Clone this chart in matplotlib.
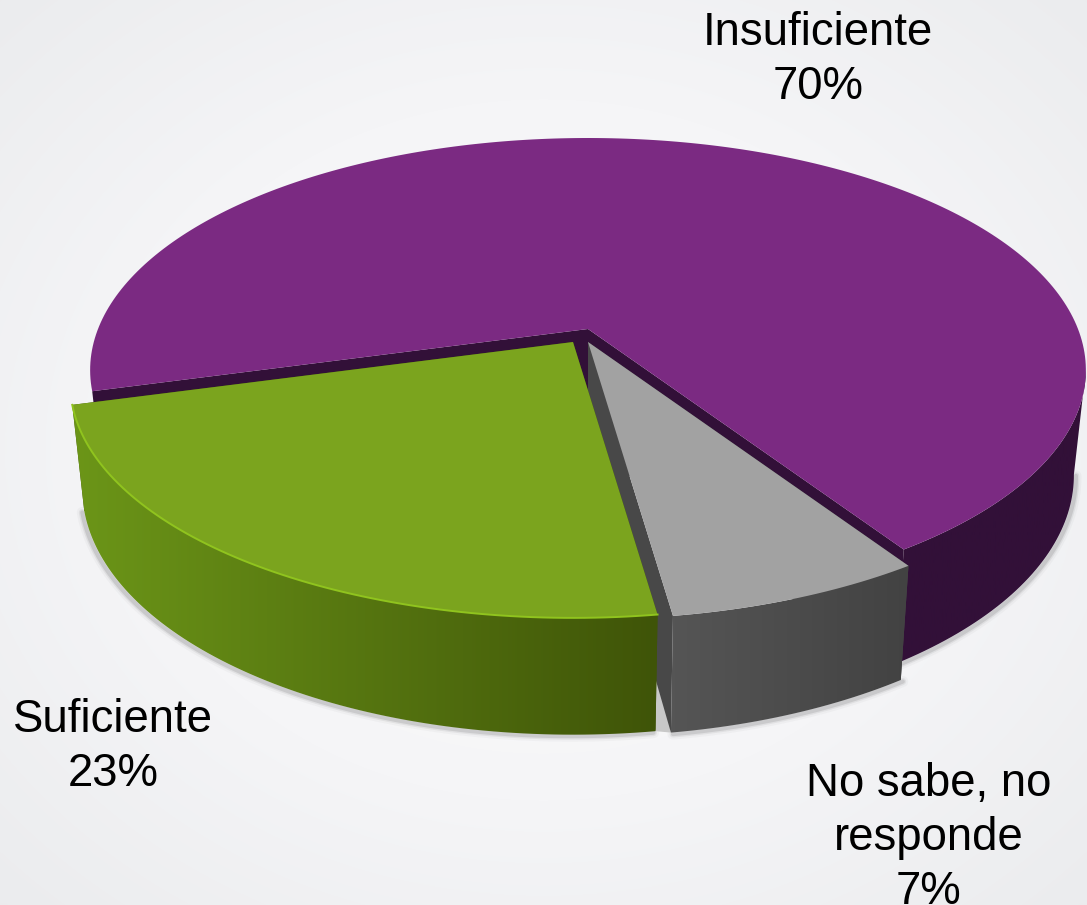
#!/usr/bin/env python3
import matplotlib
matplotlib.use('Agg')
import matplotlib.pyplot as plt
from matplotlib.colors import LinearSegmentedColormap
from matplotlib.patches import Polygon
import numpy as np

plt.rcParams['font.family'] = ['Liberation Sans', 'DejaVu Sans']

# slices clockwise, starting on the left cut
categories = ['Insuficiente', 'No sabe, no\nresponde', 'Suficiente']
values = [70, 7, 23]

top_colors = ['#7b2a82', '#a2a2a2', '#7ba41e']
cut_colors = ['#321038', '#484848', '#40540a']
wall_stops = [['#321038', '#321038'], ['#565656', '#424242'], ['#6c9618', '#3f5408']]
wall_x = [[500, 1090], [662, 912], [70, 660]]

apex_x = [588, 588, 573]
apex_y = [329, 342, 342]
scales = [1.0, 1.015, 1.01]
label_pos = [(818, 60), (929, 838), (113, 747)]

W, H = 1087, 905
START = -105.3
RX, RY, K = 490, 224.8, 0.177
DEPTH, SX, SY = 103, 0.976, 1.05


def rim(ang, idx):
    t = np.radians(ang)
    u, v = np.sin(t), np.cos(t)
    w = 1 + K * v
    s = scales[idx]
    return s * RX * u / w, -s * RY * v / w


def top_pts(ang, idx):
    dx, dy = rim(ang, idx)
    return apex_x[idx] + dx, apex_y[idx] + dy


def bot_pts(ang, idx):
    dx, dy = rim(ang, idx)
    return apex_x[idx] + SX * dx, apex_y[idx] + DEPTH + SY * dy


def arc(a0, a1):
    return np.linspace(a0, a1, int(abs(a1 - a0)) + 2)


fig = plt.figure(figsize=(W / 100, H / 100), dpi=100)
ax = fig.add_axes([0, 0, 1, 1])

# background
yy, xx = np.mgrid[0:H, 0:W]
r = np.hypot((xx - 543) / 543, (yy - 450) / 450) / np.sqrt(2)
cm = LinearSegmentedColormap.from_list('bg', ['#fbfbfc', '#f5f5f7', '#ebecee'])
ax.imshow(r, cmap=cm, vmin=0.1, vmax=1.0, extent=(0, W, H, 0), aspect='auto', zorder=0)

edges = START + np.cumsum([0] + values) * 3.6
spans = list(zip(edges[:-1], edges[1:]))
wall_from = [100, spans[1][0], spans[2][0]]

# narrow shadow under the bottom rim
for i in range(3):
    x, y = bot_pts(arc(wall_from[i], spans[i][1]), i)
    shift = -2 if i == 2 else 2
    for lw, al in [(8, 0.03), (5, 0.07), (3, 0.12)]:
        ax.plot(x + shift, y + 1.5, color='#303030', lw=lw, alpha=al, zorder=1,
                solid_capstyle='round')

z = 2
for i in range(3):
    a0, a1 = spans[i]
    cx, cy = apex_x[i], apex_y[i]
    if i == 1:
        # gap between the green and gray slices, seen behind the cut face
        ax.add_patch(Polygon([bot_pts(a1, 2), bot_pts(a1, 1), top_pts(a1, 2)],
                             fc='#c8c8c8', ec='none', zorder=z))
        z += 1
    # cut faces
    for a in (a0, a1):
        ax.add_patch(Polygon([(cx, cy), top_pts(a, i), bot_pts(a, i), (cx, cy + DEPTH)],
                             fc=cut_colors[i], ec='none', zorder=z))
        z += 1
    # outer wall
    ang = arc(wall_from[i], a1)
    tx, ty = top_pts(ang, i)
    bx, by = bot_pts(ang, i)
    wall = Polygon(np.r_[np.c_[tx, ty], np.c_[bx, by][::-1]], closed=True,
                   fc='none', ec='none', transform=ax.transData)
    ax.add_patch(wall)
    cmap = LinearSegmentedColormap.from_list('w%d' % i, wall_stops[i])
    im = ax.imshow(np.linspace(0, 1, 256)[None, :], cmap=cmap, aspect='auto', zorder=z,
                   extent=(wall_x[i][0], wall_x[i][1], H, 0))
    im.set_clip_path(wall)
    z += 1
    # top face
    x, y = top_pts(arc(a0, a1), i)
    ax.add_patch(Polygon(np.r_[np.c_[x, y], [[cx, cy]]], fc=top_colors[i], ec='none', zorder=z))
    z += 1
    if i == 2:
        ax.plot(x, y, color='#90c41e', lw=1.4, zorder=z)
        z += 1

for name, val, pos in zip(categories, values, label_pos):
    ax.text(pos[0], pos[1], f'{name}\n{val}%', ha='center', va='center', fontsize=32.8,
            color='black', linespacing=1.3, zorder=z)

ax.set_xlim(0, W)
ax.set_ylim(H, 0)
ax.axis('off')
fig.savefig('out.png', dpi=100)
